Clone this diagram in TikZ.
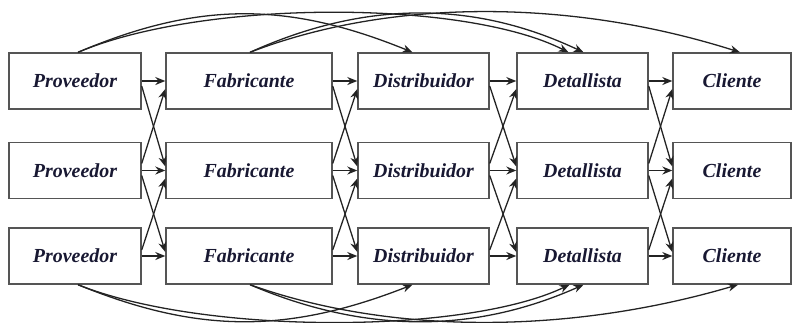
\documentclass[tikz,border=0pt]{standalone}
\usepackage{fontspec}
\setmainfont{Liberation Serif}
\usetikzlibrary{arrows.meta,calc}
\definecolor{txt}{RGB}{24,24,50}
\definecolor{boxc}{RGB}{85,85,85}
\definecolor{arrc}{RGB}{35,35,35}
\begin{document}
\begin{tikzpicture}[x=0.03cm,y=-0.03cm,
  box/.style={draw=boxc,line width=1.2pt,rectangle,inner sep=0pt,minimum height=56*0.03cm,
    font=\fontsize{17}{20}\selectfont\bfseries\itshape,text=txt},
  arr/.style={draw=arrc,line width=1.1pt,-{Stealth[length=10*0.03cm,width=8*0.03cm]}}]
\useasboundingbox (0,0) rectangle (793,322);
% columns
\foreach \r/\y in {1/81,2/170.5,3/256}{
  \node[box,minimum width=132*0.03cm] (p\r) at (75,\y) {Proveedor};
  \node[box,minimum width=166*0.03cm] (f\r) at (249,\y) {Fabricante};
  \node[box,minimum width=131*0.03cm] (d\r) at (423.5,\y) {Distribuidor};
  \node[box,minimum width=131*0.03cm] (t\r) at (582.5,\y) {Detallista};
  \node[box,minimum width=118*0.03cm] (c\r) at (732,\y) {Cliente};
}
% straight and crossing arrows
\foreach \a/\b in {p/f,f/d,d/t,t/c}{
  \foreach \r in {1,2,3}{
    \draw[arr] (\a\r.east) -- (\b\r.west);
  }
  \draw[arr] ($(\a1.east)+(0,5)$) -- ($(\b2.west)+(0,-4)$);
  \draw[arr] ($(\a2.east)+(0,5)$) -- ($(\b3.west)+(0,-4)$);
  \draw[arr] ($(\a2.east)+(0,-7)$) -- ($(\b1.west)+(0,8)$);
  \draw[arr] ($(\a3.east)+(0,-6)$) -- ($(\b2.west)+(0,8)$);
}
% top curves
\draw[arr] ($(p1.north)+(3,0)$) .. controls +(120,-51) and +(-125,-51) .. ($(d1.north)+(-11,0)$);
\draw[arr] ($(p1.north)+(3,0)$) .. controls +(125,-53) and +(-105,-53) .. ($(t1.north)+(-14,0)$);
\draw[arr] ($(f1.north)+(1,0)$) .. controls +(115,-52) and +(-110,-52) .. ($(t1.north)+(1,0)$);
\draw[arr] ($(f1.north)+(1,0)$) .. controls +(140,-54) and +(-170,-54) .. ($(c1.north)+(8,0)$);
% bottom curves
\draw[arr] ($(p3.south)+(3,0)$) .. controls +(120,49) and +(-125,49) .. ($(d3.south)+(-11,0)$);
\draw[arr] ($(p3.south)+(3,0)$) .. controls +(125,50) and +(-105,50) .. ($(t3.south)+(-13,0)$);
\draw[arr] ($(f3.south)+(1,0)$) .. controls +(115,49) and +(-110,49) .. ($(t3.south)+(1,0)$);
\draw[arr] ($(f3.south)+(1,0)$) .. controls +(140,50) and +(-170,50) .. ($(c3.south)+(6,0)$);
\end{tikzpicture}
\end{document}
